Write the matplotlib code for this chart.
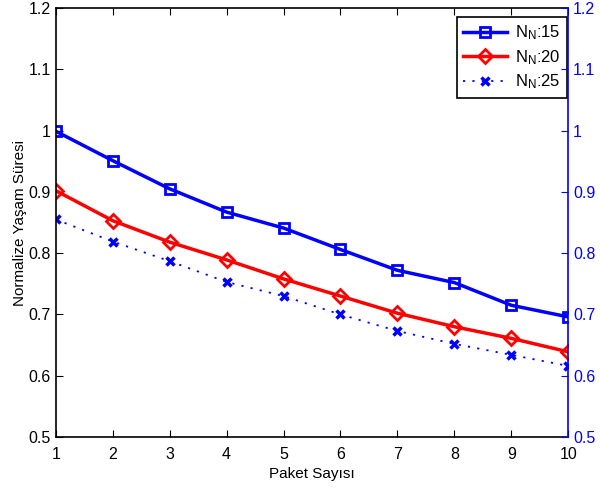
import matplotlib
matplotlib.use("Agg")
from matplotlib import pyplot as plt

packets = [1, 2, 3, 4, 5, 6, 7, 8, 9, 10]
nn15 = [0.999, 0.951, 0.905, 0.867, 0.841, 0.806, 0.772, 0.752, 0.715, 0.696]
nn20 = [0.902, 0.853, 0.818, 0.789, 0.758, 0.730, 0.702, 0.680, 0.661, 0.639]
nn25 = [0.855, 0.819, 0.787, 0.753, 0.730, 0.700, 0.673, 0.652, 0.634, 0.616]
labels = [r"N$_{\mathrm{N}}$:15", r"N$_{\mathrm{N}}$:20", r"N$_{\mathrm{N}}$:25"]
yticks = [0.5, 0.6, 0.7, 0.8, 0.9, 1, 1.1, 1.2]
ytick_labels = ["0.5", "0.6", "0.7", "0.8", "0.9", "1", "1.1", "1.2"]


def main():
    plt.rcParams["font.family"] = ["Liberation Sans", "DejaVu Sans"]
    plt.rcParams["mathtext.fontset"] = "custom"
    plt.rcParams["mathtext.rm"] = "Liberation Sans"
    plt.rcParams["mathtext.it"] = "Liberation Sans:italic"
    fig = plt.figure(figsize=(6, 4.88), dpi=100)
    ax = fig.add_axes([0.093, 0.1045, 0.854, 0.879])

    ax.plot(packets, nn15, color="blue", lw=2.5, marker="s", ms=7,
            mfc="none", mew=2, label=labels[0])
    ax.plot(packets, nn20, color="red", lw=2.5, marker="D", ms=7,
            mfc="none", mew=2, label=labels[1])
    ax.plot(packets, nn25, color="blue", lw=1.3, ls=(0, (1.2, 4)), marker="x",
            ms=6, mew=2.5, label=labels[2])

    ax.set_xlim(1, 10)
    ax.set_ylim(0.5, 1.2)
    ax.set_xticks(packets)
    ax.set_yticks(yticks)
    ax.set_yticklabels(ytick_labels)
    ax.tick_params(direction="in", top=True, labelsize=11.5, length=5)
    ax.tick_params(axis="x", pad=7)
    ax.spines["right"].set_visible(False)
    for s in ["left", "bottom", "top"]:
        ax.spines[s].set_linewidth(1.2)
    ax.set_xlabel("Paket Sayısı", fontsize=11, labelpad=4)
    ax.set_ylabel("Normalize Yaşam Süresi", fontsize=11, labelpad=1)

    ax2 = ax.twinx()
    ax2.set_ylim(0.5, 1.2)
    ax2.set_yticks(yticks)
    ax2.set_yticklabels(ytick_labels)
    ax2.tick_params(direction="in", colors="blue", labelsize=11.5, length=5)
    for s in ["left", "bottom", "top"]:
        ax2.spines[s].set_visible(False)
    ax2.spines["right"].set_color("blue")
    ax2.spines["right"].set_linewidth(1.2)

    leg = ax.legend(loc="upper right", bbox_to_anchor=(0.998, 0.979),
                    borderaxespad=0, fontsize=12, fancybox=False,
                    framealpha=1, edgecolor="black", handlelength=2.6,
                    handletextpad=0.5, borderpad=0.4, labelspacing=0.35)
    leg.get_frame().set_linewidth(1.2)
    leg.set_zorder(5)

    plt.savefig("out.png", dpi=100)


if __name__ == "__main__":
    main()
